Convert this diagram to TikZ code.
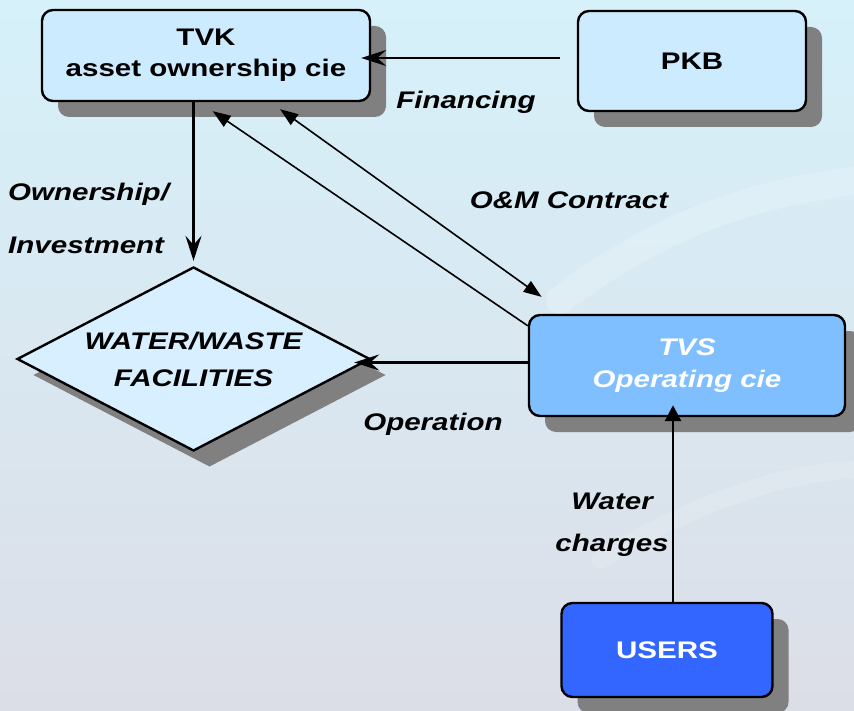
\documentclass[tikz,border=0pt]{standalone}
\usepackage{fontspec}
\setmainfont[FakeStretch=1.23]{Liberation Sans}
\usetikzlibrary{shapes.geometric,shadows,arrows.meta}

\definecolor{boxblue}{HTML}{CCEBFF}
\definecolor{diamondblue}{HTML}{D8EFFF}
\definecolor{opblue}{HTML}{80BFFF}
\definecolor{userblue}{HTML}{3366FF}
\definecolor{shadowgray}{HTML}{808080}
\definecolor{bgtop}{HTML}{D6F1FA}
\definecolor{bgbottom}{HTML}{DCDEE7}

\begin{document}
\begin{tikzpicture}[x=1pt, y=-1pt, auto,
    font=\fontsize{24}{31}\selectfont\bfseries,
    block/.style={rectangle, draw, line width=2.4pt, fill=boxblue, align=center,
    rounded corners=11pt, inner sep=0pt,
    general shadow={fill=shadowgray, shadow xshift=16pt, shadow yshift=-16pt}},
    facility/.style={diamond, draw, line width=2.4pt, fill=diamondblue, align=center,
    inner sep=0pt, aspect=1.92,
    font=\fontsize{24}{37}\selectfont\bfseries\itshape,
    general shadow={fill=shadowgray, shadow xshift=16pt, shadow yshift=-16pt}},
    tag/.style={inner sep=0pt, font=\fontsize{24}{31}\selectfont\bfseries\itshape},
    line/.style={draw, line width=2.8pt, -{Stealth[length=25pt,width=16pt,inset=9pt]}},
    thin line/.style={draw, line width=1.6pt}]
\useasboundingbox (0,0) rectangle (854,711);

% background
\fill [top color=bgtop, bottom color=bgbottom] (0,0) rectangle (854,711);
\draw [white, opacity=0.2, line width=28pt, line cap=round]
    (560,300) .. controls (680,210) and (780,190) .. (860,180);
\draw [white, opacity=0.15, line width=18pt, line cap=round]
    (600,560) .. controls (700,500) and (790,470) .. (860,470);

\node [block, minimum width=328pt, minimum height=91pt] (tvk) at (206,55.5) {TVK\\asset ownership cie};
\node [block, right of=tvk, node distance=486pt, yshift=-5.5pt,
    minimum width=228pt, minimum height=100pt] (pkb) {PKB};
\node [facility, below of=tvk, node distance=303.5pt, xshift=-12.5pt,
    minimum width=353pt, minimum height=184pt] (water) {WATER/WASTE\\FACILITIES};
\node [block, below of=pkb, node distance=304.5pt, xshift=-5pt, fill=opblue, text=white,
    font=\fontsize{24}{32}\selectfont\bfseries\itshape,
    minimum width=316pt, minimum height=101pt] (tvs) {TVS\\Operating cie};
\node [block, below of=tvs, node distance=284.5pt, xshift=-20pt, fill=userblue, text=white,
    minimum width=211pt, minimum height=94pt] (users) {USERS};

\node [tag] (financing) at (466,102) {Financing};
\node [tag, anchor=west, align=left, font=\fontsize{24}{53}\selectfont\bfseries\itshape]
    (ownership) at (8,218) {Ownership/\\Investment};
\node [tag] (contract) at (569,200) {O\&M Contract};
\node [tag] (operation) at (433,424) {Operation};
\node [tag, align=center, font=\fontsize{24}{42}\selectfont\bfseries\itshape]
    (charges) at (612,525) {Water\\charges};

\path [line, shorten <=17pt, shorten >=-10pt]
    ([yshift=3pt]pkb.west) -- ([yshift=3pt]pkb.west -| tvk.east);
\path [line, line width=2.4pt, shorten >=5pt]
    (tvk.south -| water.north) -- (water.north);
\path [thin line, -{Triangle[length=18pt,width=13pt]}, shorten >=16pt] (tvs.166) -- (tvk.262);
\path [thin line, {Triangle[length=18pt,width=13pt]}-{Triangle[length=18pt,width=13pt]},
    shorten <=12pt, shorten >=29pt] (tvk.324) -- (tvs.157);
\path [line, shorten >=-17pt] ([yshift=3pt]tvs.west) -- ([yshift=3pt]tvs.west -| water.east);
\path [line, -{Triangle[length=16pt,width=16pt]}, shorten >=-12pt]
    ([xshift=6pt]users.north) -- ([xshift=6pt]users.north |- tvs.south);
\end{tikzpicture}
\end{document}
